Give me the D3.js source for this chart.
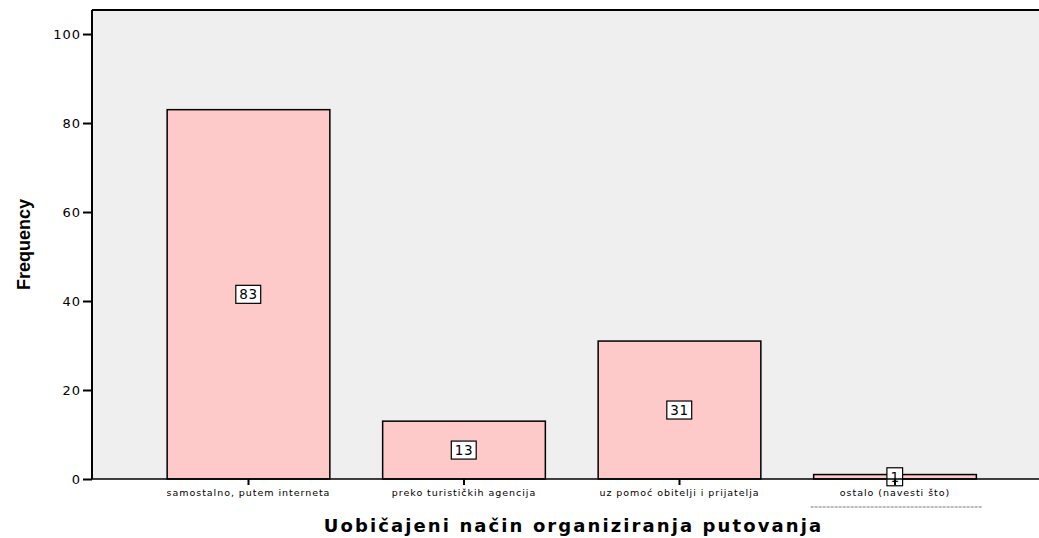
<!DOCTYPE html>
<meta charset="utf-8">
<style>
body { margin: 0; background: #fff; }
text { font-family: 'DejaVu Sans', Arial, sans-serif; }
.axis path, .axis line { stroke: #000; }
</style>
<div class="chart"></div>
<script src="https://d3js.org/d3.v7.min.js"></script>
<script>
var categories = ["samostalno, putem interneta", "preko turističkih agencija", "uz pomoć obitelji i prijatelja", "ostalo (navesti što)"];
var frequencies = [83, 13, 31, 1];
var yTicks = [0, 20, 40, 60, 80, 100];

var W = 1039, H = 538;
var margin = { top: 10, right: 0, bottom: 59, left: 92 };
var width = W - margin.left - margin.right;
var height = H - margin.top - margin.bottom;

var svg = d3.select(".chart").append("svg")
    .attr("width", W)
    .attr("height", H);

var g = svg.append("g")
    .attr("transform", "translate(" + margin.left + "," + margin.top + ")");

var y = d3.scaleLinear().domain([0, 105.4]).range([height, 0]);
var x = d3.scaleBand()
    .domain(categories)
    .range([48.75, 910.75])
    .paddingInner(0.245)
    .paddingOuter(0.1225);

// plot background
g.append("rect")
    .attr("width", width)
    .attr("height", height)
    .style("fill", "#efefef");

// top frame line
g.append("line")
    .attr("x1", 0).attr("x2", width)
    .attr("y1", 0).attr("y2", 0)
    .style("stroke", "#000").style("stroke-width", 2);

var bars = g.selectAll(".bar")
    .data(frequencies)
    .enter()
    .append("g")
    .attr("class", "bar");

bars.append("rect")
    .attr("x", function (d, i) { return x(categories[i]); })
    .attr("y", function (d) { return y(d); })
    .attr("width", x.bandwidth())
    .attr("height", function (d) { return height - y(d); })
    .style("fill", "#fdc9c9")
    .style("stroke", "#000")
    .style("stroke-width", 1.5);

// value labels in boxes
bars.each(function (d, i) {
    var cx = x(categories[i]) + x.bandwidth() / 2;
    var cy = y(d / 2);
    var t = d3.select(this).append("text")
        .attr("x", cx)
        .attr("y", cy)
        .attr("dy", "0.36em")
        .attr("text-anchor", "middle")
        .style("font-size", "13.5px")
        .style("letter-spacing", "0.6px")
        .text(d);
    var bb = t.node().getBBox();
    d3.select(this).insert("rect", "text")
        .attr("x", bb.x - 3.5)
        .attr("y", cy - 9)
        .attr("width", bb.width + 6.5)
        .attr("height", 18)
        .style("fill", "#fff")
        .style("stroke", "#000")
        .style("stroke-width", 1.2);
});

// y axis
var yAxis = g.append("g")
    .attr("class", "axis")
    .call(d3.axisLeft(y).tickValues(yTicks).tickSize(9).tickPadding(2));
yAxis.select(".domain").attr("d", "M0," + height + "V0").style("stroke-width", 2);
yAxis.selectAll(".tick line").style("stroke-width", 2);
yAxis.selectAll("text")
    .style("font-family", "'DejaVu Sans', sans-serif")
    .style("font-size", "13px")
    .style("letter-spacing", "1px")
    .style("fill", "#000");

// x axis
var xAxis = g.append("g")
    .attr("class", "axis")
    .attr("transform", "translate(0," + height + ")")
    .call(d3.axisBottom(x).tickSize(6).tickPadding(4));
xAxis.select(".domain").attr("d", "M0,0H" + width).style("stroke-width", 1.5);
xAxis.selectAll(".tick line").style("stroke-width", 2);
xAxis.selectAll("text")
    .style("font-family", "'DejaVu Sans', sans-serif")
    .style("font-size", "9.5px")
    .style("letter-spacing", "0.95px")
    .style("fill", "#000");

// dashed underline below last category label
var last = categories[categories.length - 1];
g.append("line")
    .attr("x1", x(last) - 3)
    .attr("x2", x(last) + x.bandwidth() + 6)
    .attr("y1", height + 28)
    .attr("y2", height + 28)
    .style("stroke", "#777")
    .style("stroke-dasharray", "3,1");

// axis titles
svg.append("text")
    .attr("x", margin.left + width / 2 + 8)
    .attr("y", H - 6)
    .attr("text-anchor", "middle")
    .style("font-family", "'DejaVu Sans', sans-serif")
    .style("font-size", "18px")
    .style("font-weight", "bold")
    .style("letter-spacing", "2.1px")
    .text("Uobičajeni način organiziranja putovanja");

svg.append("text")
    .attr("transform", "translate(30," + (margin.top + height / 2) + ") rotate(-90)")
    .attr("text-anchor", "middle")
    .style("font-family", "'Liberation Sans Narrow', 'Arial Narrow', sans-serif")
    .style("font-size", "18px")
    .style("font-weight", "bold")
    .text("Frequency");
</script>
